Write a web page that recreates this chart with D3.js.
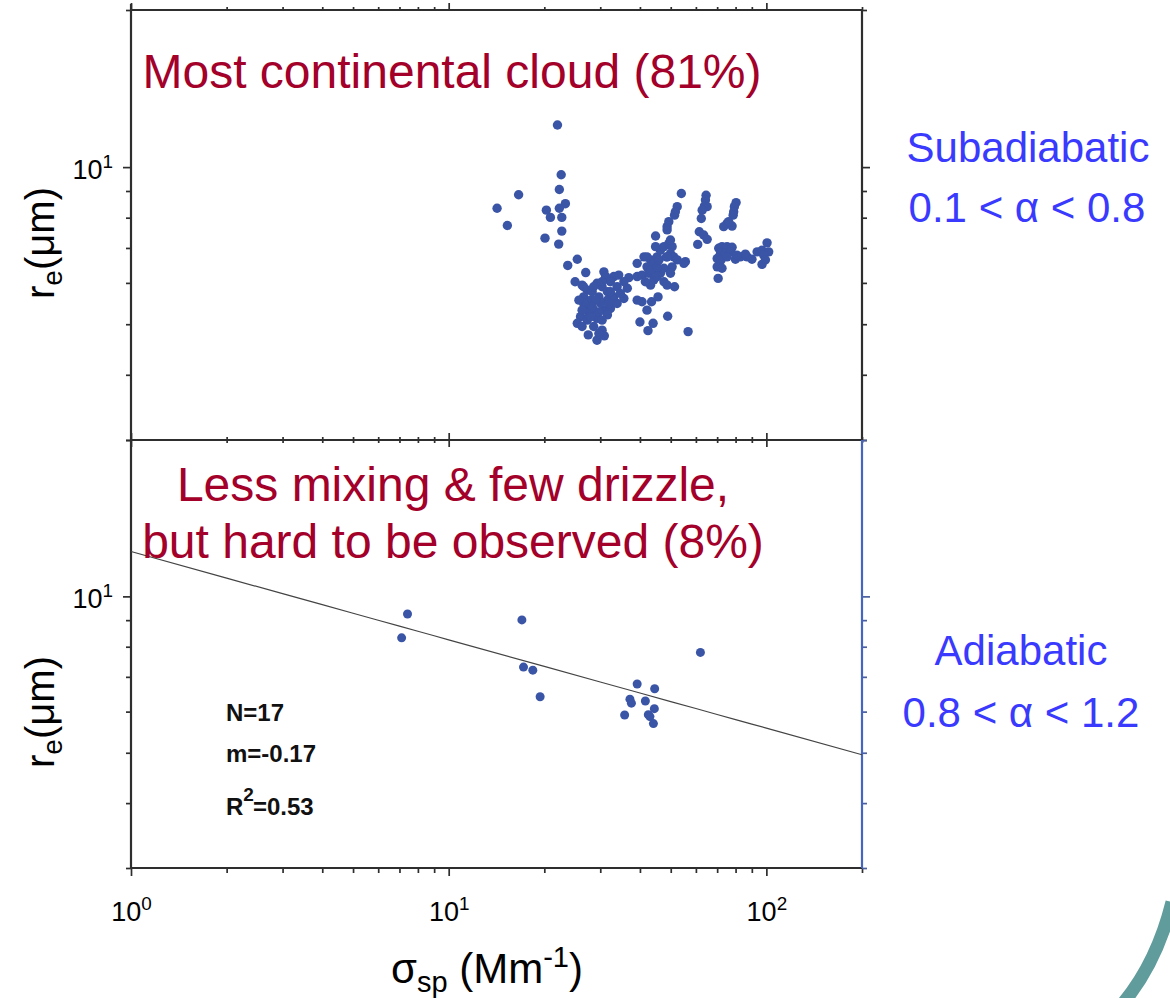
<!DOCTYPE html>
<html>
<head>
<meta charset="utf-8">
<script src="https://cdn.jsdelivr.net/npm/d3@7"></script>
<style>
  html, body { margin: 0; padding: 0; background: #fff; }
  svg { display: block; font-family: "Liberation Sans", Arial, sans-serif; }
</style>
</head>
<body>
<svg id="chart" width="1170" height="998"></svg>
<script>
// Subadiabatic clouds (0.1 < alpha < 0.8): scattering coefficient (Mm^-1) and effective radius (um)
const subSigma = [
  22.0, 14.2, 15.3, 16.6, 22.6, 22.3, 20.3, 20.9, 22.7, 23.3, 22.3, 22.7, 20.1, 22.2, 25.4, 23.7, 27.0,
  25.0, 26.3, 27.3, 29.3, 30.8, 31.2, 33.1, 34.3, 32.3, 30.4, 31.6, 33.9, 35.6, 36.5, 36.9, 26.6, 28.0,
  29.7, 31.6, 33.1, 27.3, 28.6, 30.8, 32.3, 26.0, 25.4, 27.3, 29.3, 31.6, 28.6, 30.4, 27.5, 29.3, 30.9,
  26.6, 28.3, 30.1, 27.6, 29.7, 26.3, 31.9, 30.4, 28.6,
  25.7, 28.0, 30.4, 32.3, 34.7, 26.3, 29.7, 26.6, 33.9, 35.6, 29.0, 28.3,
  39.2, 41.2, 43.2, 42.1, 44.2, 45.3, 46.4, 44.8, 47.6, 49.3, 50.5, 49.9, 51.1, 52.4, 50.5, 55.6, 55.0,
  39.2, 40.6, 42.7, 44.2, 43.2, 46.4, 47.6, 48.7, 51.4, 44.8, 41.6, 43.2, 47.6, 45.3, 39.2, 40.6, 43.5,
  45.6, 42.1, 40.0, 44.0, 42.4, 48.9, 56.7, 44.8, 48.7, 49.3, 48.7, 51.4, 52.4, 54.0, 51.7, 49.9, 48.5,
  42.1, 45.9, 48.7, 45.3, 49.9,
  64.6, 64.3, 63.8, 65.1, 62.8, 62.4, 61.5, 63.5, 65.1, 60.8, 80.3, 79.3, 78.9, 78.6, 75.2, 73.4, 78.0, 76.1,
  70.8, 72.5, 75.2, 78.0, 71.7, 74.3, 77.1, 70.0, 72.0, 75.2, 79.9, 82.8, 85.9, 87.0, 90.1, 93.5, 96.9,
  100.5, 101.7, 98.1, 99.3, 96.9, 70.0, 72.5, 70.5, 80.8
];
const subRe = [
  12.04, 8.34, 7.73, 8.85, 9.67, 9.06, 8.27, 8.01, 8.01, 8.51, 8.34, 7.54, 7.31, 7.12, 6.66, 6.48, 6.28,
  6.03, 5.94, 5.81, 5.99, 6.30, 6.17, 6.17, 6.21, 6.03, 5.90, 5.77, 5.90, 5.60, 5.86, 6.14, 5.64, 5.56,
  5.64, 5.56, 5.64, 5.40, 5.32, 5.32, 5.36, 5.17, 5.02, 5.09, 5.13, 5.21, 4.95, 4.87, 4.77, 4.66, 4.75,
  5.48, 5.77, 5.48, 5.25, 5.28, 5.32, 5.48, 6.03, 5.90,
  5.56, 5.17, 5.09, 5.77, 5.73, 4.95, 4.80, 5.90, 5.48, 6.03, 5.56, 5.40,
  6.54, 6.73, 6.64, 6.44, 6.54, 6.73, 6.93, 7.04, 7.04, 7.14, 7.04, 6.83, 6.73, 6.64, 6.44, 6.59, 6.54,
  6.17, 6.21, 6.26, 6.08, 5.94, 6.26, 6.03, 5.94, 5.90, 6.35, 6.03, 6.35, 6.40, 6.44, 5.56, 5.52, 5.52,
  5.64, 5.32, 5.05, 5.02, 4.86, 5.18, 4.84, 7.38, 7.69, 7.86, 7.58, 8.09, 8.40, 8.90, 8.21, 7.25, 6.73,
  6.73, 6.64, 6.73, 6.17, 6.26,
  8.83, 8.65, 8.42, 8.40, 8.27, 7.97, 7.52, 7.41, 7.27, 7.11, 8.55, 8.40, 8.21, 8.09, 7.80, 7.69, 7.71, 7.86,
  6.99, 7.04, 7.04, 7.02, 6.83, 6.83, 6.88, 6.68, 6.64, 6.73, 6.66, 6.73, 6.81, 6.73, 6.66, 6.88, 6.93,
  7.16, 6.88, 6.78, 6.64, 6.51, 6.44, 6.40, 6.12, 6.78
];

// Adiabatic clouds (0.8 < alpha < 1.2)
const adiSigma = [7.42, 7.11, 17.0, 17.2, 18.4, 19.4, 39.2, 44.5, 37.2, 37.6, 41.6, 44.4, 35.8, 42.5, 43.0, 44.1, 62.0];
const adiRe    = [9.25, 8.32, 9.01, 7.31, 7.21, 6.41, 6.78, 6.64, 6.34, 6.23, 6.29, 6.08, 5.91, 5.92, 5.87, 5.69, 7.80];

// Power-law fit for the adiabatic group: r_e = a * sigma^m
const fitA = 12.2;
const fitM = -0.17;
const fitStats = ["N=17", "m=-0.17"];
const fitR2 = "0.53";

// Axis ticks
const xMajor = [1, 10, 100];
const xMinor = [2, 3, 4, 5, 6, 7, 8, 9, 20, 30, 40, 50, 60, 70, 80, 90, 200];
const yMajor = [10];
const yMinor = [3, 4, 5, 6, 7, 8, 9, 20];

const svg = d3.select("#chart");
const ink = "#2e2e2e";
const dotColor = "#3a54a6";

const x = d3.scaleLog().domain([1, 200]).range([131, 862]);
const yTop = d3.scaleLog().domain([3, 20]).range([440, 10]);
const yBot = d3.scaleLog().domain([3, 20]).range([868, 440]);

function tidy(g, color) {
  g.select(".domain").remove();
  g.attr("font-family", null).attr("font-size", null);
  g.selectAll(".tick line").attr("stroke", color || ink).attr("stroke-width", 1.7);
  return g;
}

function powerLabels(g, size) {
  g.selectAll(".tick text").each(function (d) {
    const t = d3.select(this).text(null).attr("fill", "#000").attr("font-size", size);
    t.append("tspan").text("10");
    t.append("tspan").attr("font-size", size * 0.7).attr("dy", -size * 0.42)
      .text(Math.round(Math.log10(d)));
  });
}

// --- x ticks: top edge, middle divider, bottom edge ---
tidy(svg.append("g").attr("transform", "translate(0,10)")
  .call(d3.axisTop(x).tickValues(xMajor).tickSize(7).tickFormat("")));
tidy(svg.append("g").attr("transform", "translate(0,10)")
  .call(d3.axisTop(x).tickValues(xMinor).tickSize(3).tickFormat("")));
[d3.axisTop, d3.axisBottom].forEach(fn => {
  tidy(svg.append("g").attr("transform", "translate(0,440)")
    .call(fn(x).tickValues(xMajor).tickSize(7).tickFormat("")));
  tidy(svg.append("g").attr("transform", "translate(0,440)")
    .call(fn(x).tickValues(xMinor).tickSize(3).tickFormat("")));
});
const xBottom = tidy(svg.append("g").attr("transform", "translate(0,868)")
  .call(d3.axisBottom(x).tickValues(xMajor).tickSize(8).tickPadding(21)));
powerLabels(xBottom, 27);
xBottom.selectAll(".tick text").attr("dy", "0.9em");
tidy(svg.append("g").attr("transform", "translate(0,868)")
  .call(d3.axisBottom(x).tickValues(xMinor).tickSize(5).tickFormat("")));

// --- y ticks for both panels ---
[yTop, yBot].forEach((y, i) => {
  const left = tidy(svg.append("g").attr("transform", "translate(131,0)")
    .call(d3.axisLeft(y).tickValues(yMajor).tickSize(8).tickPadding(10)));
  powerLabels(left, 27);
  left.selectAll(".tick text").attr("dy", "0.42em");
  tidy(svg.append("g").attr("transform", "translate(131,0)")
    .call(d3.axisLeft(y).tickValues(yMinor).tickSize(5).tickFormat("")));
  const rc = i === 0 ? ink : "#4a5f9c";
  tidy(svg.append("g").attr("transform", "translate(862,0)")
    .call(d3.axisRight(y).tickValues(yMajor).tickSize(8).tickFormat("")), rc);
  tidy(svg.append("g").attr("transform", "translate(862,0)")
    .call(d3.axisRight(y).tickValues(yMinor).tickSize(5).tickFormat("")), rc);
});

// --- panel frames ---
const frame = svg.append("g").attr("stroke-width", 2.2).attr("fill", "none");
frame.append("line").attr("x1", 131).attr("x2", 131).attr("y1", 4).attr("y2", 869).attr("stroke", ink);
frame.append("line").attr("x1", 131).attr("x2", 862).attr("y1", 10).attr("y2", 10).attr("stroke", ink);
frame.append("line").attr("x1", 131).attr("x2", 862).attr("y1", 440).attr("y2", 440).attr("stroke", ink);
frame.append("line").attr("x1", 131).attr("x2", 862).attr("y1", 868).attr("y2", 868).attr("stroke", ink);
frame.append("line").attr("x1", 862).attr("x2", 862).attr("y1", 10).attr("y2", 440).attr("stroke", ink);
frame.append("line").attr("x1", 862).attr("x2", 862).attr("y1", 440).attr("y2", 868).attr("stroke", "#4466c0");

// --- fit line in the lower panel ---
const fitXs = x.ticks(40).filter(v => v >= 1 && v <= 200);
fitXs.unshift(1); fitXs.push(200);
svg.append("path")
  .datum(fitXs)
  .attr("fill", "none").attr("stroke", "#444").attr("stroke-width", 1.2)
  .attr("d", d3.line().x(d => x(d)).y(d => yBot(fitA * Math.pow(d, fitM))));

// --- scatter points ---
svg.append("g").selectAll("circle")
  .data(d3.zip(subSigma, subRe))
  .join("circle")
  .attr("cx", d => x(d[0])).attr("cy", d => yTop(d[1])).attr("r", 4.7)
  .attr("fill", dotColor);
svg.append("g").selectAll("circle")
  .data(d3.zip(adiSigma, adiRe))
  .join("circle")
  .attr("cx", d => x(d[0])).attr("cy", d => yBot(d[1])).attr("r", 4.5)
  .attr("fill", dotColor);

// --- fit statistics ---
const stats = svg.append("g").attr("font-weight", "bold").attr("font-size", 24).attr("fill", "#111");
stats.append("text").attr("x", 226).attr("y", 721).text(fitStats[0]);
stats.append("text").attr("x", 226).attr("y", 762).text(fitStats[1]);
const r2 = stats.append("text").attr("x", 226).attr("y", 815);
r2.append("tspan").text("R");
r2.append("tspan").attr("font-size", 19).attr("dy", -14).text("2");
r2.append("tspan").attr("dx", -1).attr("dy", 14).text("=" + fitR2);

// --- panel annotations ---
const red = "#a3002a";
svg.append("text").attr("x", 452).attr("y", 88).attr("text-anchor", "middle")
  .attr("font-size", 48).attr("fill", red).text("Most continental cloud (81%)");
svg.append("text").attr("x", 453).attr("y", 501).attr("text-anchor", "middle")
  .attr("font-size", 48).attr("fill", red).text("Less mixing & few drizzle,");
svg.append("text").attr("x", 453).attr("y", 558).attr("text-anchor", "middle")
  .attr("font-size", 48).attr("fill", red).text("but hard to be observed (8%)");

const blue = "#3a3aff";
[["Subadiabatic", 1028, 162], ["0.1 < α < 0.8", 1027, 222],
 ["Adiabatic", 1021, 665], ["0.8 < α < 1.2", 1021, 727]].forEach(([s, cx, cy]) => {
  svg.append("text").attr("x", cx).attr("y", cy).attr("text-anchor", "middle")
    .attr("font-size", 42).attr("fill", blue).text(s);
});

// --- axis titles ---
function yTitle(cy) {
  const t = svg.append("text").attr("transform", `translate(54,${cy}) rotate(-90)`)
    .attr("text-anchor", "middle").attr("font-size", 40).attr("fill", "#000");
  t.append("tspan").text("r");
  t.append("tspan").attr("font-size", 28).attr("dy", 8).text("e");
  t.append("tspan").attr("dy", -8).text("(μm)");
}
yTitle(243);
yTitle(712);

const xt = svg.append("text").attr("x", 487).attr("y", 983).attr("text-anchor", "middle")
  .attr("font-size", 42).attr("fill", "#000");
xt.append("tspan").text("σ");
xt.append("tspan").attr("font-size", 29).attr("dy", 9).text("sp");
xt.append("tspan").attr("dy", -9).text(" (Mm");
xt.append("tspan").attr("font-size", 29).attr("dy", -16).text("-1");
xt.append("tspan").attr("dy", 16).text(")");

// --- corner ornament ---
svg.append("path")
  .attr("d", "M1124,1002 C1142,980 1160,950 1172,902")
  .attr("fill", "none").attr("stroke", "#5f9c9b").attr("stroke-width", 13);
</script>
</body>
</html>
